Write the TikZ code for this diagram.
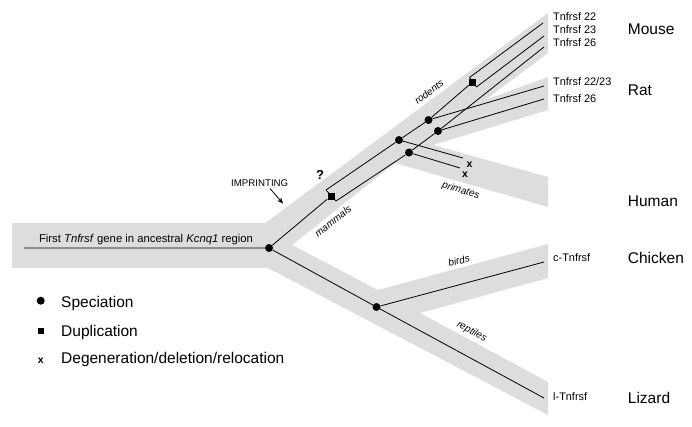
\documentclass[tikz,border=0pt]{standalone}
\usepackage{fontspec}
\setmainfont{Liberation Sans}
\usetikzlibrary{arrows.meta,positioning,calc}
\definecolor{band}{RGB}{221,221,221}
\tikzset{branch/.style={black,line width=0.8pt},
  pointer/.style={-{Stealth[length=6pt,width=5pt]},line width=0.8pt},
  speciation/.style={circle,fill=black,inner sep=0pt,minimum size=8pt},
  duplication/.style={rectangle,fill=black,inner sep=0pt,minimum size=7pt},
  loss/.style={font=\bfseries\fontsize{10.5}{11}\selectfont,inner sep=0pt},
  gene/.style={anchor=west,inner sep=0pt,font=\fontsize{10.9}{11}\selectfont},
  species/.style={anchor=west,inner sep=0pt,font=\fontsize{15.5}{16}\selectfont},
  clade/.style={inner sep=0pt,font=\itshape\fontsize{10}{10}\selectfont}}

\begin{document}
\begin{tikzpicture}[x=1pt,y=-1pt]
\useasboundingbox (0,0) rectangle (692,426);
% grey lineage bands
\fill[band] (12,223) rectangle (292,268);
\fill[band] (264,224) -- (548,13) -- (548,53) -- (485,100) -- (548,77) -- (548,110)
  -- (433,145) -- (548,177) -- (548,207) -- (395,163) -- (292,245) -- cycle;
\fill[band] (292,245) -- (378,290) -- (548,244) -- (548,278) -- (420,313)
  -- (548,382) -- (548,415) -- (268,268) -- cycle;
% events on the tree
\coordinate (start) at (24,248);
\node[speciation] (root) at (269,248) {};
\node[duplication] (dupA) at (331,196) {};
\coordinate (dupAup) at (326,190);
\coordinate (dupAlo) at (336,201);
\node[speciation] (spA1) at (399,140) {};
\node[speciation] (spB1) at (409,152.5) {};
\node[speciation] (spA2) at (428.5,120) {};
\node[speciation] (spB2) at (438,131) {};
\node[duplication] (dupB) at (472.5,82) {};
\coordinate (dupBup) at (469.5,77.5);
\coordinate (dupBlo) at (476.5,87);
\node[speciation] (sauro) at (376.5,307) {};
% branch ends
\coordinate (m22) at (543,23);
\coordinate (m23) at (544,36);
\coordinate (m26) at (544,47);
\coordinate (r2223) at (544,86);
\coordinate (r26) at (544,99);
\coordinate (hA) at (463,158);
\coordinate (hB) at (460,168);
\coordinate (ch) at (544,262);
\coordinate (li) at (544,398);
% branches
\draw[branch] (start) -- (root) -- (dupA);
\draw[branch] (dupAup) -- (dupAlo);
\draw[branch] (dupAup) -- (spA1) -- (spA2) -- (dupB);
\draw[branch] (dupAlo) -- (spB1) -- (spB2) -- (m26);
\draw[branch] (dupBup) -- (dupBlo);
\draw[branch] (dupBup) -- (m22);
\draw[branch] (dupBlo) -- (m23);
\draw[branch] (spA1) -- (hA);
\draw[branch] (spB1) -- (hB);
\draw[branch] (spA2) -- (r2223);
\draw[branch] (spB2) -- (r26);
\draw[branch] (root) -- (sauro) -- (ch);
\draw[branch] (sauro) -- (li);
\node[loss] (xA) at (469.5,164.5) {x};
\node[loss] (xB) at (465,175) {x};
% labels
\node[inner sep=0pt,font=\fontsize{11.3}{12}\selectfont] (trunklabel) at (146,240)
  {First \textit{Tnfrsf} gene in ancestral \textit{Kcnq1} region};
\node[inner sep=0pt,font=\fontsize{9.7}{10}\selectfont] (imprint) at (259.7,182.7) {IMPRINTING};
\coordinate (imprintstart) at (270,188.5);
\coordinate (imprintend) at (283,203.5);
\draw[pointer] (imprintstart) -- (imprintend);
\node[inner sep=0pt,font=\bfseries\fontsize{13}{13}\selectfont] (query) at (320,175) {?};
\node[clade,rotate=38] (mammals) at (333,221) {mammals};
\node[clade,rotate=37] (rodents) at (429,92) {rodents};
\node[clade,rotate=-16] (primates) at (460.7,190.7) {primates};
\node[clade,rotate=15] (birds) at (459,260.7) {birds};
\node[clade,rotate=-28] (reptiles) at (471.7,331.7) {reptiles};
\node[gene] (g22) at (553,16.7) {Tnfrsf 22};
\node[gene] (g23) at (553,29.3) {Tnfrsf 23};
\node[gene] (g26) at (553,42.7) {Tnfrsf 26};
\node[gene] (g2223) at (553,81.7) {Tnfrsf 22/23};
\node[gene] (gr26) at (553,99) {Tnfrsf 26};
\node[gene] (gch) at (553,257.7) {c-Tnfrsf};
\node[gene] (gli) at (553,396.7) {l-Tnfrsf};
\node[species] (mouse) at (627.7,29.3) {Mouse};
\node[species] (rat) at (627.7,90) {Rat};
\node[species] (human) at (627.7,201.7) {Human};
\node[species] (chicken) at (627.7,258.3) {Chicken};
\node[species] (lizard) at (627.7,398.3) {Lizard};
% legend
\node[speciation] (legsp) at (40.7,300.7) {};
\node[duplication,minimum size=6pt] (legdup) at (40.7,330.7) {};
\node[loss] (legloss) at (40.7,360.5) {x};
\node[species] (legsptext) at (61,303) {Speciation};
\node[species] (legduptext) at (61,332) {Duplication};
\node[species] (leglosstext) at (61,359.5) {Degeneration/deletion/relocation};
\end{tikzpicture}
\end{document}
